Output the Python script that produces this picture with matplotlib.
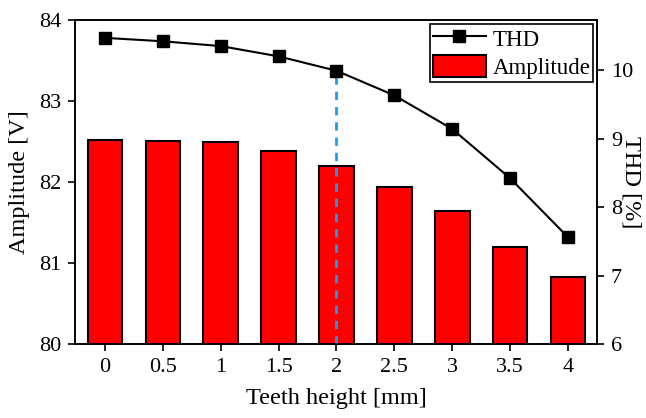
import matplotlib
matplotlib.use("Agg")
import matplotlib.pyplot as plt

# ── Data ──────────────────────────────────────────────────────────────────────
teeth_height = [0, 0.5, 1, 1.5, 2, 2.5, 3, 3.5, 4]
tick_labels = ["0", "0.5", "1", "1.5", "2", "2.5", "3", "3.5", "4"]
amplitude = [82.52, 82.51, 82.49, 82.38, 82.20, 81.94, 81.64, 81.20, 80.83]
thd = [10.47, 10.42, 10.35, 10.20, 9.99, 9.63, 9.14, 8.42, 7.56]
marked_height = 2

plt.rcParams["font.family"] = ["Liberation Serif", "DejaVu Serif"]
plt.rcParams["font.size"] = 16

fig, ax = plt.subplots(figsize=(6.46, 4.18), dpi=100)
ax2 = ax.twinx()

# bars on the left axis
bars = ax.bar(teeth_height, amplitude, width=0.3,
              color="#FF0000", edgecolor="black", linewidth=1.5,
              label="Amplitude", zorder=2)
ax.set_ylim(80, 84)
ax.set_xlim(-0.26, 4.25)
ax.set_yticks([80, 81, 82, 83, 84])
ax.set_xticks(teeth_height)
ax.set_xticklabels(tick_labels)
ax.set_xlabel("Teeth height [mm]", fontsize=17.5, labelpad=8)
ax.set_ylabel("Amplitude [V]", fontsize=17.5, labelpad=6)

# THD line + marker at 2 mm on the right axis
line, = ax2.plot(teeth_height, thd, color="black", marker="s",
                 markersize=9, linewidth=1.5, label="THD", zorder=3)
idx = teeth_height.index(marked_height)
ax2.vlines(marked_height, 6, thd[idx], colors="#1A9FF0",
           linestyles=(0, (3, 2.5)), linewidth=2, zorder=2)
ax2.set_ylim(6, 10.73)
ax2.set_yticks([6, 7, 8, 9, 10])
ax2.set_ylabel("THD [%]", rotation=270, va="bottom", fontsize=17.5)
ax2.yaxis.set_label_coords(1.046, 0.5)

for a in (ax, ax2):
    a.tick_params(direction="out", length=5, width=1.2, pad=5)
    for s in a.spines.values():
        s.set_linewidth(1.2)

leg = ax2.legend([line, bars], ["THD", "Amplitude"], loc="upper right",
                 fancybox=False, edgecolor="black", framealpha=1,
                 borderaxespad=0.17, handlelength=2.3, handleheight=1.1,
                 borderpad=0.12, labelspacing=0.2, handletextpad=0.3,
                 fontsize=16.5)
leg.get_frame().set_linewidth(1.2)

fig.subplots_adjust(left=0.116, right=0.924, top=0.952, bottom=0.177)
fig.savefig("out.png", dpi=100)
